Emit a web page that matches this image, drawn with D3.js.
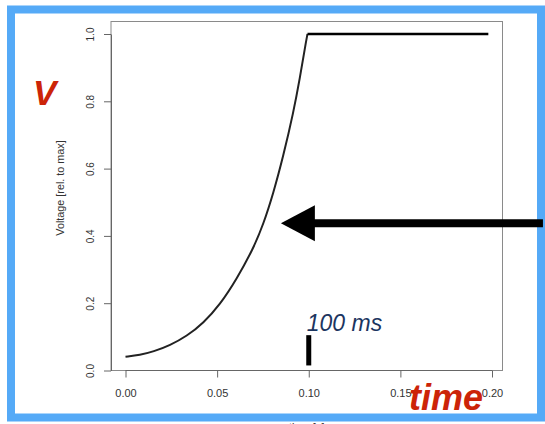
<!DOCTYPE html>
<html><head><meta charset="utf-8">
<script src="https://cdn.jsdelivr.net/npm/d3@7"></script>
<style>html,body{margin:0;padding:0;background:#fff;overflow:hidden}svg{display:block}</style>
</head><body><svg id="c" width="545" height="424"></svg>
<script>
// ---- data ----
const riseTime = [0, 0.0079, 0.0152, 0.0243, 0.0334, 0.0425, 0.0516, 0.0607, 0.0697, 0.0752, 0.0807, 0.0861, 0.0916, 0.0952, 0.0980, 0.0993];
const riseVolt = [0.041, 0.046, 0.056, 0.075, 0.102, 0.141, 0.196, 0.272, 0.362, 0.434, 0.527, 0.637, 0.766, 0.870, 0.962, 1.0];
const plateauTime = [0.0993, 0.198];
const plateauVolt = [1.0, 1.0];
const xTicks = [0, 0.05, 0.10, 0.15, 0.20];
const xTickLabels = ["0.00", "0.05", "0.10", "0.15", "0.20"];
const yTicks = [0, 0.2, 0.4, 0.6, 0.8, 1.0];
const yTickLabels = ["0.0", "0.2", "0.4", "0.6", "0.8", "1.0"];
const markerTime = [0.1];
const markerRange = [0.015, 0.105];
const arrowTime = [0.0848, 0.2278];
const arrowVolt = [0.4375];

const svg = d3.select("#c");
const x = d3.scaleLinear().domain([0, 0.2]).range([125.5, 492]);
const y = d3.scaleLinear().domain([0, 1]).range([370.5, 34]);
const box = {l: 111, r: 502.5, t: 21.5, b: 370.5};
const font = "Liberation Sans, Arial, sans-serif";

// plot box
svg.append("rect").attr("x", box.l).attr("y", box.t).attr("width", box.r - box.l).attr("height", box.b - box.t)
  .attr("fill", "none").attr("stroke", "#8a8a8a").attr("stroke-width", 1);

// axes
const xAxis = svg.append("g").attr("transform", `translate(0,${box.b})`)
  .call(d3.axisBottom(x).tickValues(xTicks).tickFormat((d, i) => xTickLabels[i]).tickSize(7).tickPadding(12).tickSizeOuter(0));
xAxis.select(".domain").attr("stroke", "#666").attr("d", `M${x(0)},0H${x(0.2)}`);
xAxis.selectAll(".tick line").attr("stroke", "#666");
xAxis.selectAll("text").attr("font-family", font).attr("font-size", 11).attr("fill", "#333");

const yAxis = svg.append("g").attr("transform", `translate(${box.l},0)`)
  .call(d3.axisLeft(y).tickValues(yTicks).tickFormat((d, i) => yTickLabels[i]).tickSize(7).tickSizeOuter(0));
yAxis.select(".domain").attr("stroke", "#666");
yAxis.selectAll(".tick line").attr("stroke", "#666");
yAxis.selectAll(".tick text").attr("font-family", font).attr("font-size", 10).attr("fill", "#333")
  .attr("text-anchor", "middle").attr("x", 0).attr("y", 0).attr("dy", "0.35em")
  .attr("transform", "translate(-21,0) rotate(-90)");

// axis titles
svg.append("text").attr("transform", `translate(64,188) rotate(-90)`)
  .attr("text-anchor", "middle").attr("font-family", font).attr("font-size", 10.8).attr("fill", "#333")
  .text("Voltage [rel. to max]");
svg.append("text").attr("x", (box.l + box.r) / 2).attr("y", 431).attr("text-anchor", "middle")
  .attr("font-family", font).attr("font-size", 11).attr("fill", "#333").text("time [s]");

// data lines
const rise = riseTime.map((t, i) => [t, riseVolt[i]]);
const plat = plateauTime.map((t, i) => [t, plateauVolt[i]]);
svg.append("path").attr("d", d3.line().x(d => x(d[0])).y(d => y(d[1])).curve(d3.curveBasis)(rise))
  .attr("fill", "none").attr("stroke", "#222").attr("stroke-width", 2);
svg.append("path").attr("d", d3.line().x(d => x(d[0])).y(d => y(d[1]))(plat))
  .attr("fill", "none").attr("stroke", "#000").attr("stroke-width", 2.5);

// 100 ms marker
svg.append("line").attr("x1", x(markerTime[0])).attr("x2", x(markerTime[0]))
  .attr("y1", y(markerRange[0])).attr("y2", y(markerRange[1])).attr("stroke", "#000").attr("stroke-width", 5);
svg.append("text").attr("x", x(markerTime[0]) - 2).attr("y", 331)
  .attr("font-family", font).attr("font-style", "italic").attr("font-size", 23)
  .attr("fill", "#1c3560").text("100 ms");

// red labels
svg.append("text").attr("x", 33).attr("y", 105).attr("font-family", font)
  .attr("font-weight", "bold").attr("font-style", "italic").attr("font-size", 35).attr("fill", "#cc2408").text("V");
svg.append("text").attr("x", 409).attr("y", 410).attr("font-family", font)
  .attr("font-weight", "bold").attr("font-style", "italic").attr("font-size", 36).attr("fill", "#cc2408").text("time");

// blue frame
svg.append("rect").attr("x", 11).attr("y", 9.5).attr("width", 530).attr("height", 408)
  .attr("fill", "none").attr("stroke", "#55aaf7").attr("stroke-width", 8);

// arrow (drawn over the frame)
const ay = y(arrowVolt[0]);
svg.append("line").attr("x1", x(arrowTime[0]) + 30).attr("x2", x(arrowTime[1])).attr("y1", ay).attr("y2", ay)
  .attr("stroke", "#000").attr("stroke-width", 8);
svg.append("path").attr("d", `M${x(arrowTime[0])},${ay}L${x(arrowTime[0]) + 34},${ay - 18}L${x(arrowTime[0]) + 34},${ay + 18}Z`)
  .attr("fill", "#000");
</script></body></html>
